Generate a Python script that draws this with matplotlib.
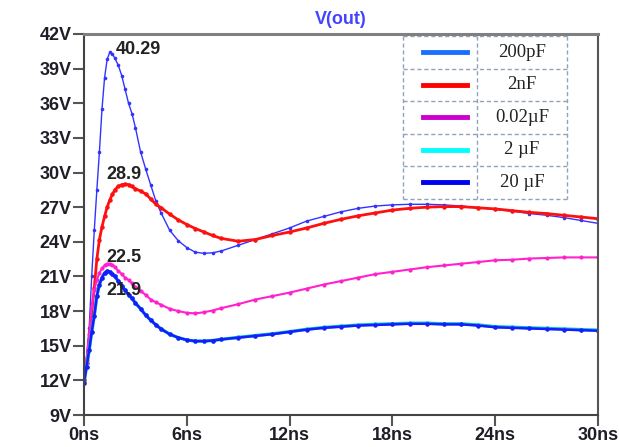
import matplotlib
matplotlib.use("Agg")
import matplotlib.pyplot as plt
from matplotlib.lines import Line2D

# time points (ns)
t = [0, 0.15, 0.3, 0.45, 0.6, 0.75, 0.9, 1.05, 1.2, 1.35, 1.5, 1.65, 1.8,
     2.0, 2.2, 2.4, 2.6, 2.8, 3.0, 3.3, 3.6, 3.9, 4.2, 4.5, 5.0, 5.5, 6.0,
     6.5, 7.0, 7.5, 8.0, 9, 10, 11, 12, 13, 14, 15, 16, 17, 18, 19, 20, 21,
     22, 23, 24, 25, 26, 27, 28, 29, 30]

v_200p = [12.0, 14.0, 16.5, 21.0, 25.0, 28.5, 31.8, 35.5, 38.2, 39.8, 40.4,
          40.3, 39.9, 39.3, 38.4, 37.2, 36.0, 35.1, 33.9, 31.8, 30.3, 28.9,
          27.5, 26.5, 25.0, 24.1, 23.5, 23.1, 23.0, 23.05, 23.2, 23.7, 24.2,
          24.7, 25.2, 25.8, 26.2, 26.6, 26.9, 27.1, 27.2, 27.25, 27.25, 27.2,
          27.1, 26.95, 26.8, 26.65, 26.45, 26.3, 26.1, 25.85, 25.6]
v_2n = [12.0, 13.5, 15.5, 17.8, 20.0, 22.5, 24.2, 25.3, 26.2, 27.0, 27.6,
        28.1, 28.5, 28.8, 28.95, 29.0, 28.95, 28.8, 28.6, 28.4, 28.15, 27.7,
        27.25, 26.95, 26.4, 25.9, 25.5, 25.15, 24.85, 24.55, 24.3, 24.05,
        24.2, 24.55, 24.85, 25.2, 25.6, 25.95, 26.25, 26.5, 26.75, 26.9, 27.0,
        27.05, 27.05, 26.95, 26.85, 26.7, 26.55, 26.45, 26.3, 26.15, 26.0]
v_002u = [12.0, 13.8, 16.0, 18.4, 19.8, 20.7, 21.3, 21.7, 21.95, 22.1, 22.1,
          22.0, 21.8, 21.5, 21.2, 20.9, 20.7, 20.4, 20.1, 19.75, 19.4, 19.0,
          18.75, 18.55, 18.2, 18.0, 17.85, 17.8, 17.9, 18.05, 18.25, 18.6,
          19.0, 19.3, 19.6, 19.95, 20.3, 20.6, 20.9, 21.2, 21.4, 21.6, 21.8,
          21.95, 22.1, 22.25, 22.4, 22.45, 22.55, 22.6, 22.65, 22.65, 22.65]
v_2u = [11.8, 13.2, 14.6, 16.2, 17.6, 19.3, 20.3, 20.9, 21.3, 21.45, 21.4,
        21.2, 21.0, 20.6, 20.2, 19.8, 19.4, 19.1, 18.7, 18.2, 17.65, 17.2,
        16.8, 16.45, 16.0, 15.7, 15.5, 15.4, 15.4, 15.45, 15.55, 15.72,
        15.88, 16.03, 16.22, 16.42, 16.58, 16.69, 16.79, 16.85, 16.9, 16.95,
        16.95, 16.9, 16.9, 16.8, 16.65, 16.6, 16.55, 16.5, 16.45, 16.4, 16.35]
v_20u = [11.8, 13.2, 14.6, 16.2, 17.6, 19.3, 20.3, 20.9, 21.3, 21.45, 21.4,
         21.2, 21.0, 20.6, 20.2, 19.8, 19.4, 19.1, 18.7, 18.2, 17.65, 17.2,
         16.8, 16.45, 16.0, 15.7, 15.5, 15.4, 15.4, 15.45, 15.55, 15.7,
         15.85, 16.0, 16.2, 16.4, 16.55, 16.65, 16.75, 16.8, 16.85, 16.9,
         16.9, 16.85, 16.85, 16.75, 16.6, 16.55, 16.5, 16.45, 16.4, 16.35, 16.3]

labels = ['200pF', '2nF', '0.02\u00b5F', '2 \u00b5F', '20 \u00b5F']
legend_colors = ['#1a6fff', '#ff0000', '#cc00cc', '#00ffff', '#0000ee']

peak_text = ['40.29', '28.9', '22.5', '21.9']
peak_pos = [(1.87, 40.7), (1.29, 29.85), (1.29, 22.6), (1.29, 19.8)]

xticks = [0, 6, 12, 18, 24, 30]
yticks = [9, 12, 15, 18, 21, 24, 27, 30, 33, 36, 39, 42]

fig = plt.figure(figsize=(6.19, 4.47), dpi=100)
ax = fig.add_axes([84/619, 32/447, 514/619, 381/447])

ms = 2.6
ax.plot(t, v_200p, color='#3333ff', lw=1.0, marker='o', ms=ms, mec='none')
ax.plot(t, v_2n, color='#ff1010', lw=2.0, marker='o', ms=ms + 0.6, mec='none')
ax.plot(t, v_002u, color='#ff22cc', lw=1.5, marker='o', ms=ms + 0.4, mec='none')
ax.plot(t, v_2u, color='#00cccc', lw=2.4, marker='o', ms=ms + 0.6, mec='none')
ax.plot(t, v_20u, color='#1a1aff', lw=1.8, marker='o', ms=ms + 0.6, mec='none')

for txt, (x, y) in zip(peak_text, peak_pos):
    ax.text(x, y, txt, fontsize=13, fontweight='bold', color='#222222',
            va='center', ha='left', family='Liberation Sans')

ax.set_xlim(0, 30)
ax.set_ylim(9, 42)
ax.set_xticks(xticks)
ax.set_xticklabels([f'{v}ns' for v in xticks])
ax.set_yticks(yticks)
ax.set_yticklabels([f'{v}V' for v in yticks])
for lab in ax.get_xticklabels() + ax.get_yticklabels():
    lab.set_fontweight('bold')
    lab.set_fontsize(13)
    lab.set_family('Liberation Sans')
    lab.set_color('#1e1e28')
ax.tick_params(direction='out', length=8, width=1.5, color='#555555', pad=1)

for side in ('left', 'bottom'):
    ax.spines[side].set_color('#444444')
    ax.spines[side].set_linewidth(1.5)
ax.spines['top'].set_color('#808080')
ax.spines['top'].set_linewidth(2.2)
ax.spines['right'].set_color('#555555')
ax.spines['right'].set_linewidth(1.5)

ax.set_title('V(out)', color='#4444ff', fontsize=13, fontweight='bold',
             family='Liberation Sans', pad=7)

# table-style legend
x0, x1, xm = 0.620, 0.9396, 0.764
ytop, rh = 0.9947, 0.0853
bc = '#8fa3bb'
tr = ax.transAxes
for k in range(6):
    yy = ytop - k * rh
    ax.add_line(Line2D([x0, x1], [yy, yy], transform=tr, color=bc, lw=1,
                       ls=(0, (3, 2)), clip_on=False))
for xx in (x0, xm, x1):
    ax.add_line(Line2D([xx, xx], [ytop, ytop - 5 * rh], transform=tr,
                       color=bc, lw=1, ls=(0, (3, 2)), clip_on=False))
for k, (lab, c) in enumerate(zip(labels, legend_colors)):
    yc = ytop - (k + 0.5) * rh
    ax.add_line(Line2D([0.659, 0.745], [yc, yc], transform=tr, color=c,
                       lw=3.5, clip_on=False))
    ax.text(0.852, yc, lab, transform=tr, ha='center', va='center',
            fontsize=13.5, family='Liberation Serif', color='#222222')

fig.savefig('out.png', dpi=100)
